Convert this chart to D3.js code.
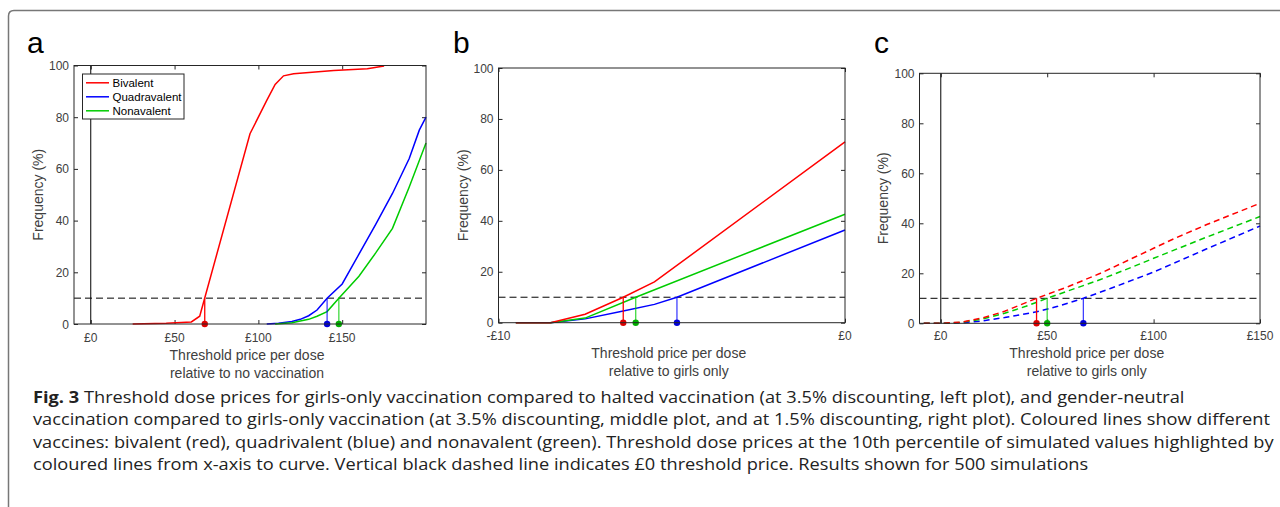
<!DOCTYPE html>
<html>
<head>
<meta charset="utf-8">
<script src="https://cdn.jsdelivr.net/npm/d3@7"></script>
<style>
  body { margin: 0; background: #fff; }
  svg { display: block; }
</style>
</head>
<body>
<div id="figure"></div>
<script>
// series names
const vaccines = ["Bivalent", "Quadravalent", "Nonavalent"];
const yTicks = [0, 20, 40, 60, 80, 100];

// panel a: girls-only vs halted vaccination (3.5%)
const aBivalentPrice = [25, 45, 60, 65, 95, 105, 110, 115, 121, 145, 165, 175];
const aBivalentFreq = [0, 0.3, 0.8, 3, 73.6, 86.5, 92.7, 96, 96.8, 98.1, 98.7, 99.8];
const aQuadPrice = [105, 112, 120, 125, 130, 135, 141, 150, 160, 170, 180, 190, 196, 200];
const aQuadFreq = [0, 0.3, 1, 1.8, 3.2, 5.4, 10, 15.5, 27, 38.5, 50.5, 64, 75, 80];
const aNonaPrice = [110, 120, 130, 135, 141, 148, 160, 170, 180, 190, 200];
const aNonaFreq = [0, 0.5, 1.8, 3, 4.8, 10, 18.5, 27.5, 37, 53, 70];
const aThresholds = [68, 141, 148];
const aTicks = [0, 50, 100, 150];

// panel b: gender-neutral vs girls-only (3.5%)
const bBivalentPrice = [-9.5, -8.5, -7.5, -6.4, -5.5, 0];
const bBivalentFreq = [0, 0, 3.3, 10, 16, 71];
const bQuadPrice = [-9.5, -8.5, -7.5, -6.4, -5.5, -4.85, 0];
const bQuadFreq = [0, 0, 1.5, 4.6, 7.2, 10, 36.4];
const bNonaPrice = [-9.5, -8.5, -7.5, -6.04, 0];
const bNonaFreq = [0, 0, 1.8, 10, 42.6];
const bThresholds = [-6.4, -4.85, -6.04];
const bTicks = [-10, 0];

// panel c: gender-neutral vs girls-only (1.5%)
const cBivalentPrice = [-8, 0, 10, 20, 30, 45, 60, 75, 90, 100, 110, 125, 150];
const cBivalentFreq = [0, 0, 0.5, 2.2, 4.8, 10, 14.7, 20, 26, 30, 34, 39.5, 48];
const cQuadPrice = [-8, 0, 10, 20, 30, 45, 55, 67, 80, 100, 125, 150];
const cQuadFreq = [0, 0, 0.2, 1, 2.3, 4.6, 6.8, 10, 14, 20.5, 29.8, 38.9];
const cNonaPrice = [-8, 0, 10, 20, 30, 40, 50, 60, 75, 90, 100, 125, 150];
const cNonaFreq = [0, 0, 0.4, 1.8, 4, 6.8, 10, 13, 17.5, 22.5, 26, 34.5, 42.7];
const cThresholds = [45, 67, 50];
const cTicks = [0, 50, 100, 150];

const captionLines = [
    "Threshold dose prices for girls-only vaccination compared to halted vaccination (at 3.5% discounting, left plot), and gender-neutral",
    "vaccination compared to girls-only vaccination (at 3.5% discounting, middle plot, and at 1.5% discounting, right plot). Coloured lines show different",
    "vaccines: bivalent (red), quadrivalent (blue) and nonavalent (green). Threshold dose prices at the 10th percentile of simulated values highlighted by",
    "coloured lines from x-axis to curve. Vertical black dashed line indicates £0 threshold price. Results shown for 500 simulations"
];

const colours = ["#ff0000", "#0000ff", "#00cc00"];
const dotColours = ["#dd0000", "#0000dd", "#00b000"];

var svg;

document.addEventListener("DOMContentLoaded", setup)

function setup(){
    svg = d3.select("#figure").append("svg")
        .attr("width", 1280)
        .attr("height", 507);

    // figure frame
    svg.append("path")
        .attr("d", "M8.5,507 L8.5,16 Q8.5,10.5 14,10.5 L1280,10.5")
        .attr("fill", "none")
        .attr("stroke", "#777")
        .attr("stroke-width", 1.5);

    drawPanel({
        letter: "a", letterX: 27, letterY: 53,
        left: 74, right: 426, top: 65.5, bottom: 324,
        domain: [-10, 200], ticks: aTicks, tickY: 342,
        label: ["Threshold price per dose", "relative to no vaccination"], labelY: 360,
        yLabelX: 43,
        series: [[aBivalentPrice, aBivalentFreq], [aQuadPrice, aQuadFreq], [aNonaPrice, aNonaFreq]],
        thresholds: aThresholds, zeroLine: true, dashed: false, legend: true
    });
    drawPanel({
        letter: "b", letterX: 453, letterY: 53,
        left: 498.5, right: 845, top: 68, bottom: 322.7,
        domain: [-10, 0], ticks: bTicks, tickY: 340,
        label: ["Threshold price per dose", "relative to girls only"], labelY: 358,
        yLabelX: 468,
        series: [[bBivalentPrice, bBivalentFreq], [bQuadPrice, bQuadFreq], [bNonaPrice, bNonaFreq]],
        thresholds: bThresholds, zeroLine: false, dashed: false, legend: false
    });
    drawPanel({
        letter: "c", letterX: 874, letterY: 53,
        left: 919.5, right: 1260, top: 73.3, bottom: 323.3,
        domain: [-10, 150], ticks: cTicks, tickY: 340,
        label: ["Threshold price per dose", "relative to girls only"], labelY: 358,
        yLabelX: 888,
        series: [[cBivalentPrice, cBivalentFreq], [cQuadPrice, cQuadFreq], [cNonaPrice, cNonaFreq]],
        thresholds: cThresholds, zeroLine: true, dashed: true, legend: false
    });

    drawCaption();
}

function fmtPrice(v){
    return (v < 0 ? "-£" : "£") + Math.abs(v);
}

function drawPanel(p){
    const x = d3.scaleLinear().domain(p.domain).range([p.left, p.right]);
    const y = d3.scaleLinear().domain([0, 100]).range([p.bottom, p.top]);
    const g = svg.append("g");
    const font = "Liberation Sans, Arial, sans-serif";

    svg.append("text")
        .attr("x", p.letterX).attr("y", p.letterY)
        .attr("font-family", font).attr("font-size", 30)
        .attr("fill", "#000")
        .text(p.letter);

    // background box
    g.append("rect")
        .attr("x", p.left).attr("y", p.top)
        .attr("width", p.right - p.left).attr("height", p.bottom - p.top)
        .attr("fill", "#fff");

    // ticks inside on all four sides (matlab box)
    const tl = 4;
    g.append("g")
        .attr("transform", "translate(0," + p.bottom + ")")
        .call(d3.axisBottom(x).tickValues(p.ticks).tickSize(-tl).tickFormat(""))
        .call(a => a.select(".domain").remove());
    g.append("g")
        .attr("transform", "translate(0," + p.top + ")")
        .call(d3.axisTop(x).tickValues(p.ticks).tickSize(-tl).tickFormat(""))
        .call(a => a.select(".domain").remove());
    g.append("g")
        .attr("transform", "translate(" + p.left + ",0)")
        .call(d3.axisLeft(y).tickValues(yTicks).tickSize(-tl).tickFormat(""))
        .call(a => a.select(".domain").remove());
    g.append("g")
        .attr("transform", "translate(" + p.right + ",0)")
        .call(d3.axisRight(y).tickValues(yTicks).tickSize(-tl).tickFormat(""))
        .call(a => a.select(".domain").remove());
    g.selectAll(".tick line").attr("stroke", "#262626");

    // tick labels
    g.selectAll(".xlab")
        .data(p.ticks).enter()
        .append("text")
        .attr("x", d => x(d)).attr("y", p.tickY)
        .attr("text-anchor", "middle")
        .attr("font-family", font).attr("font-size", 12)
        .attr("fill", "#404040")
        .text(fmtPrice);
    g.selectAll(".ylab")
        .data(yTicks).enter()
        .append("text")
        .attr("x", p.left - 5).attr("y", d => y(d) + 4.5)
        .attr("text-anchor", "end")
        .attr("font-family", font).attr("font-size", 12)
        .attr("fill", "#404040")
        .text(d => d);

    // axis labels
    p.label.forEach((t, i) => {
        g.append("text")
            .attr("x", (p.left + p.right) / 2 - 3).attr("y", p.labelY + i * 18)
            .attr("text-anchor", "middle")
            .attr("font-family", font).attr("font-size", 14)
            .attr("fill", "#404040")
            .text(t);
    });
    g.append("text")
        .attr("transform", "translate(" + p.yLabelX + "," + (p.top + p.bottom) / 2 + ") rotate(-90)")
        .attr("text-anchor", "middle")
        .attr("font-family", font).attr("font-size", 14)
        .attr("fill", "#404040")
        .text("Frequency (%)");

    // £0 line and 10% line
    if (p.zeroLine){
        g.append("line")
            .attr("x1", x(0)).attr("x2", x(0))
            .attr("y1", y(0)).attr("y2", y(100))
            .attr("stroke", "#000").attr("stroke-width", 1);
    }
    g.append("line")
        .attr("x1", p.left).attr("x2", p.right)
        .attr("y1", y(10)).attr("y2", y(10))
        .attr("stroke", "#000").attr("stroke-width", 1)
        .attr("stroke-dasharray", "7,4");

    const line = d3.line().x(d => x(d[0])).y(d => y(d[1]));
    // red drawn last so it sits on top
    const order = [1, 2, 0];
    order.forEach(i => {
        const s = p.series[i];
        const pts = s[0].map((v, j) => [v, s[1][j]]);
        g.append("path")
            .datum(pts)
            .attr("d", line)
            .attr("fill", "none")
            .attr("stroke", colours[i])
            .attr("stroke-width", 1.5)
            .attr("stroke-dasharray", p.dashed ? "6,4" : null);
    });

    // threshold stems
    p.thresholds.forEach((t, i) => {
        g.append("line")
            .attr("x1", x(t)).attr("x2", x(t))
            .attr("y1", y(0)).attr("y2", y(10))
            .attr("stroke", colours[i]).attr("stroke-width", 1.3)
            .attr("stroke-opacity", i == 0 ? 1 : 0.75);
    });
    p.thresholds.forEach((t, i) => {
        g.append("circle")
            .attr("cx", x(t)).attr("cy", y(0))
            .attr("r", 3.2)
            .attr("fill", dotColours[i]);
    });

    // box on top
    g.append("rect")
        .attr("x", p.left).attr("y", p.top)
        .attr("width", p.right - p.left).attr("height", p.bottom - p.top)
        .attr("fill", "none")
        .attr("stroke", "#262626").attr("stroke-width", 1);

    if (p.legend){
        const lg = g.append("g");
        lg.append("rect")
            .attr("x", 82.5).attr("y", 74).attr("width", 101.5).attr("height", 45)
            .attr("fill", "#fff").attr("stroke", "#262626").attr("stroke-width", 1);
        vaccines.forEach((v, i) => {
            const ly = 82.8 + i * 14;
            lg.append("line")
                .attr("x1", 86).attr("x2", 109)
                .attr("y1", ly).attr("y2", ly)
                .attr("stroke", colours[i]).attr("stroke-width", 1.5);
            lg.append("text")
                .attr("x", 112.5).attr("y", ly + 4)
                .attr("font-family", font).attr("font-size", 11.5)
                .attr("fill", "#000")
                .text(v);
        });
    }
}

function drawCaption(){
    // condensed caption: squeeze every line by the same factor so the
    // longest line (line 2) spans the column
    const cap = svg.append("g");
    const texts = captionLines.map((t, i) => {
        const txt = cap.append("text")
            .attr("x", 0).attr("y", 403 + i * 22.3)
            .attr("font-family", "Open Sans, Noto Sans, sans-serif")
            .attr("font-size", 16.5)
            .attr("fill", "#222");
        if (i == 0){
            txt.append("tspan").attr("font-weight", "bold").text("Fig. 3 ");
        }
        txt.append("tspan").text(t);
        return txt;
    });
    const natural = texts[1].node().getComputedTextLength();
    const sx = (1271 - 33) / natural;
    cap.attr("transform", "translate(33,0) scale(" + sx + ",1)");
}
</script>
</body>
</html>
